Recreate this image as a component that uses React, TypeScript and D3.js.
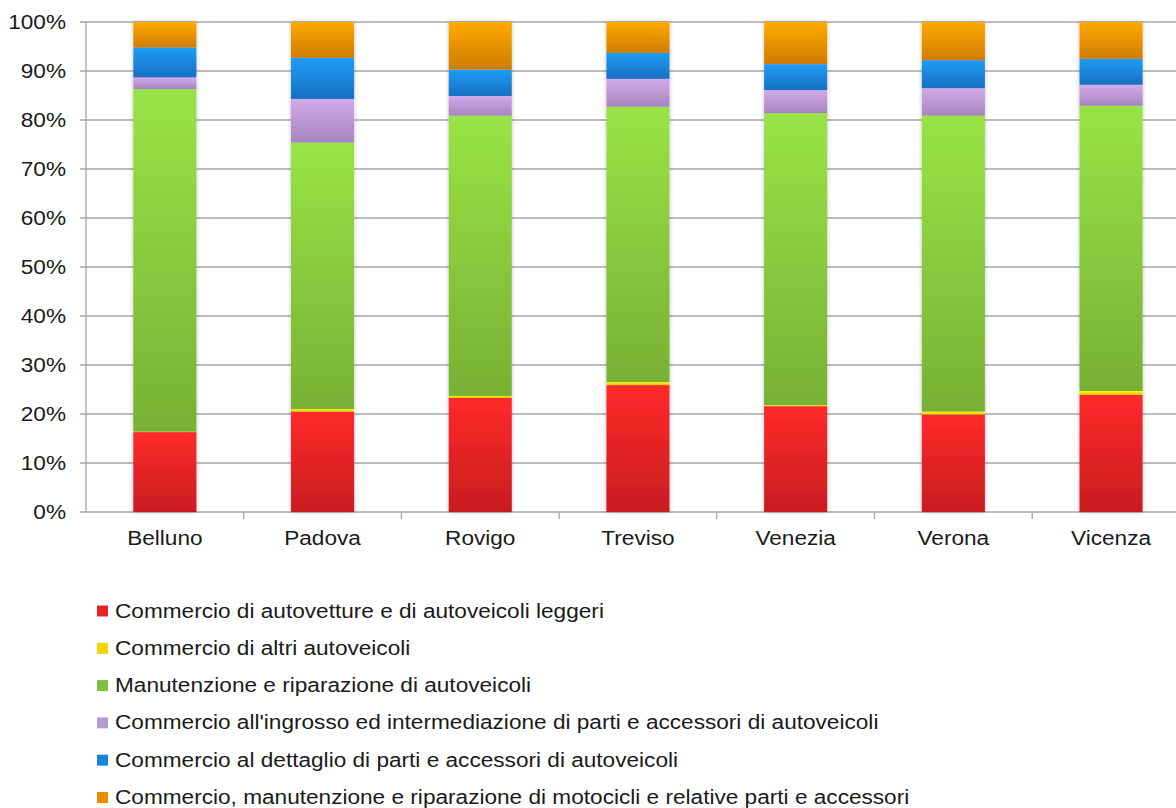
import React from "react";
import * as d3 from "d3";

const categories = ["Belluno", "Padova", "Rovigo", "Treviso", "Venezia", "Verona", "Vicenza"];

const seriesNames = [
  "Commercio di autovetture e di autoveicoli leggeri",
  "Commercio di altri autoveicoli",
  "Manutenzione e riparazione di autoveicoli",
  "Commercio all'ingrosso ed intermediazione di parti e accessori di autoveicoli",
  "Commercio al dettaglio di parti e accessori di autoveicoli",
  "Commercio, manutenzione e riparazione di motocicli e relative parti e accessori",
];

// percentages per category (Belluno..Vicenza)
const autovetture = [16.3, 20.5, 23.3, 25.9, 21.6, 19.9, 23.9];
const altriAutoveicoli = [0.1, 0.5, 0.4, 0.6, 0.2, 0.6, 0.8];
const manutenzione = [69.9, 54.4, 57.2, 56.2, 59.6, 60.4, 58.2];
const ingrosso = [2.4, 8.9, 4.0, 5.7, 4.7, 5.6, 4.3];
const dettaglio = [6.1, 8.4, 5.4, 5.3, 5.3, 5.7, 5.3];
const motocicli = [5.2, 7.3, 9.7, 6.3, 8.6, 7.8, 7.5];

const yTicks = [0, 10, 20, 30, 40, 50, 60, 70, 80, 90, 100];

const gradTop = ["#ff2a2b", "#ffff10", "#99e346", "#d2aaea", "#1f9cf7", "#ffaa00"];
const gradBottom = ["#c81d1f", "#e2c000", "#78b034", "#a585bd", "#1770c2", "#cf7c00"];
const legendColors = ["#e8262a", "#efd400", "#7cc03f", "#b59bd4", "#1b82e0", "#e88c00"];

const W = 1176;
const H = 808;
const left = 86;
const top = 22;
const bottom = 512;
const band = 157.7;
const SX = 1.16;

function T(props: { x: number; y: number; anchor?: string; children: any }) {
  return (
    <g transform={`translate(${props.x},${props.y}) scale(${SX},1)`}>
      <text
        x={0}
        y={0}
        textAnchor={props.anchor || "start"}
        fontFamily="'Liberation Sans', Arial, sans-serif"
        fontSize={19.5}
        fill="#1a1a1a"
      >
        {props.children}
      </text>
    </g>
  );
}

export default function App() {
  const values = [autovetture, altriAutoveicoli, manutenzione, ingrosso, dettaglio, motocicli];
  const rows = categories.map((c, i) => {
    const r: any = { cat: c };
    values.forEach((v, s) => (r["s" + s] = v[i]));
    return r;
  });
  const keys = values.map((_, s) => "s" + s);
  const stacked = d3.stack().keys(keys)(rows);

  const x = d3
    .scaleBand()
    .domain(categories)
    .range([left, left + band * categories.length])
    .paddingInner(0.6)
    .paddingOuter(0.3);
  const y = d3.scaleLinear().domain([0, 100]).range([bottom, top]);

  return (
    <svg width={W} height={H} style={{ position: "absolute", left: 0, top: 0, background: "#fff" }}>
      <defs>
        {gradTop.map((c, i) => (
          <linearGradient key={i} id={"g" + i} x1="0" y1="0" x2="0" y2="1">
            <stop offset="0%" stopColor={c} />
            <stop offset="100%" stopColor={gradBottom[i]} />
          </linearGradient>
        ))}
        <filter id="shadow" x="-20%" y="-5%" width="140%" height="110%">
          <feDropShadow dx="0" dy="0" stdDeviation="2" floodColor="#000" floodOpacity="0.25" />
        </filter>
      </defs>

      {yTicks.map((t) => (
        <line key={t} x1={left - 6} x2={W} y1={y(t)} y2={y(t)} stroke="#a6a6a6" strokeWidth={1.3} />
      ))}
      <line x1={left} x2={left} y1={top} y2={bottom} stroke="#a6a6a6" strokeWidth={1.3} />
      {categories.map((c, i) => (
        <line
          key={c}
          x1={left + band * (i + 1)}
          x2={left + band * (i + 1)}
          y1={bottom}
          y2={bottom + 7}
          stroke="#a6a6a6"
          strokeWidth={1.3}
        />
      ))}

      {categories.map((c, i) => (
        <g key={c} filter="url(#shadow)">
          {stacked.map((layer, s) => {
            const d = layer[i];
            const y0 = y(d[1]);
            const y1 = y(d[0]);
            return (
              <rect
                key={s}
                x={x(c)!}
                y={y0}
                width={x.bandwidth()}
                height={Math.max(0, y1 - y0)}
                fill={`url(#g${s})`}
              />
            );
          })}
        </g>
      ))}

      {yTicks.map((t) => (
        <T key={t} x={66} y={y(t) + 7} anchor="end">
          {t + "%"}
        </T>
      ))}
      {categories.map((c) => (
        <T key={c} x={x(c)! + x.bandwidth() / 2} y={545} anchor="middle">
          {c}
        </T>
      ))}

      {seriesNames.map((n, i) => (
        <g key={n}>
          <rect x={97} y={617.5 + i * 37.3 - 12} width={11} height={11} fill={legendColors[i]} />
          <T x={115} y={617.5 + i * 37.3}>
            {n}
          </T>
        </g>
      ))}
    </svg>
  );
}
